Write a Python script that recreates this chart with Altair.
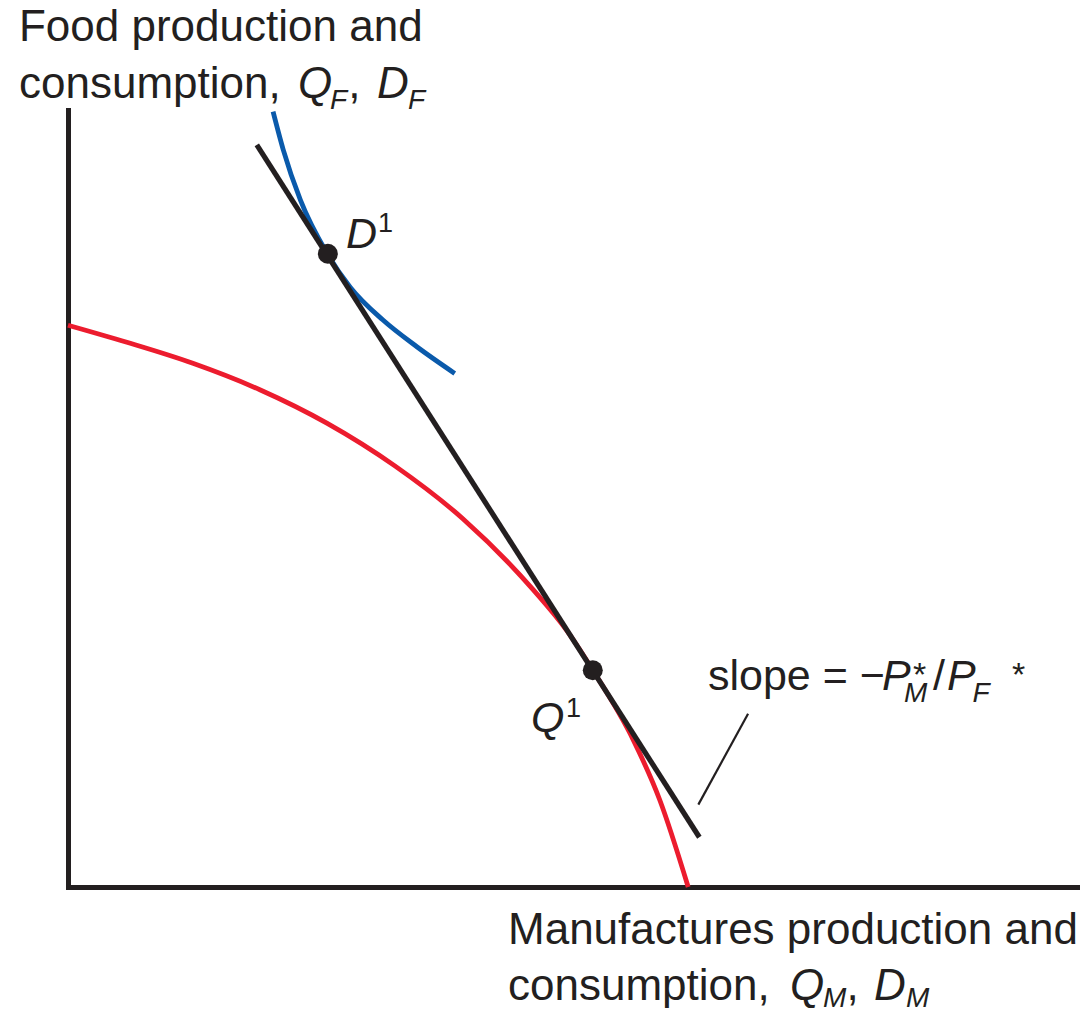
import altair as alt
import pandas as pd

# ---- data (arbitrary units) ----
# production possibility frontier (red)
ppf_x = [0.00, 0.58, 1.23, 1.89, 2.55, 3.22, 3.89, 4.58, 4.92, 5.17, 5.57, 5.83, 6.11]
ppf_y = [7.23, 7.01, 6.74, 6.40, 5.97, 5.42, 4.74, 3.83, 3.29, 2.79, 1.89, 1.12, 0.00]
# indifference curve (blue)
ic_x = [2.02, 2.12, 2.29, 2.55, 2.78, 3.10, 3.44, 3.81]
ic_y = [9.98, 9.49, 8.84, 8.16, 7.72, 7.30, 6.95, 6.61]
# relative price line (black)
price_x = [1.86, 6.22]
price_y = [9.55, 0.64]
# equilibrium points D1, Q1
pt_x = [2.56, 5.17]
pt_y = [8.15, 2.79]
# leader line of the slope label
ptr_x = [6.70, 6.21]
ptr_y = [2.23, 1.06]

# text pieces: text, x, y, font size, italic
lab_text = ["Food production and", "consumption,", "Q", "F", ",", "D", "F",
            "Manufactures production and", "consumption,", "Q", "M", ",", "D", "M",
            "D", "1", "Q", "1",
            "slope = \u2212", "P", "*", "M", "/", "P", "F", "*"]
lab_x = [-0.483, -0.483, 2.266, 2.581, 2.760, 3.044, 3.350,
         4.335, 4.335, 7.113, 7.438, 7.670, 7.941, 8.256,
         2.739, 3.054, 4.562, 4.906,
         6.305, 8.020, 8.325, 8.236, 8.522, 8.660, 8.910, 9.300]
lab_y = [10.888, 10.154, 10.154, 10.013, 10.154, 10.154, 10.013,
         -0.734, -1.454, -1.454, -1.544, -1.454, -1.454, -1.544,
         8.224, 8.430, 1.995, 2.188,
         2.535, 2.535, 2.587, 2.381, 2.535, 2.535, 2.381, 2.587]
lab_size = [44, 44, 44, 28, 44, 44, 28,
            44, 44, 44, 28, 44, 44, 28,
            43, 27, 43, 27,
            43, 43, 34, 28, 43, 43, 28, 34]
lab_italic = [False, False, True, True, False, True, True,
              False, False, True, True, False, True, True,
              True, False, True, False,
              False, True, False, True, False, True, True, False]

RED = "#ec1c2e"
BLUE = "#0a5aab"
INK = "#231f20"
FONT = "Liberation Sans"

xs = alt.Scale(domain=[0, 9.97], nice=False, zero=False)
ys = alt.Scale(domain=[0, 10], nice=False, zero=False)

ppf_df = pd.DataFrame({"x": ppf_x, "y": ppf_y, "o": range(len(ppf_x))})
ic_df = pd.DataFrame({"x": ic_x, "y": ic_y, "o": range(len(ic_x))})
price_df = pd.DataFrame({"x": [price_x[0]], "y": [price_y[0]], "x2": [price_x[1]], "y2": [price_y[1]]})
ptr_df = pd.DataFrame({"x": [ptr_x[0]], "y": [ptr_y[0]], "x2": [ptr_x[1]], "y2": [ptr_y[1]]})
pt_df = pd.DataFrame({"x": pt_x, "y": pt_y})
lab_df = pd.DataFrame({"x": lab_x, "y": lab_y, "t": lab_text, "s": lab_size, "it": lab_italic})

X = alt.X("x:Q", scale=xs, title=None)
Y = alt.Y("y:Q", scale=ys, title=None)

ppf = alt.Chart(ppf_df).mark_line(color=RED, strokeWidth=4.8, interpolate="monotone").encode(
    x=X, y=Y, order="o:Q")
ic = alt.Chart(ic_df).mark_line(color=BLUE, strokeWidth=4.8, interpolate="monotone").encode(
    x=X, y=Y, order="o:Q")
price = alt.Chart(price_df).mark_rule(color=INK, strokeWidth=5.2, strokeCap="butt").encode(
    x=X, y=Y, x2="x2:Q", y2="y2:Q")
ptr = alt.Chart(ptr_df).mark_rule(color=INK, strokeWidth=2.2, strokeCap="butt").encode(
    x=X, y=Y, x2="x2:Q", y2="y2:Q")
pts = alt.Chart(pt_df).mark_circle(color=INK, opacity=1, size=400).encode(x=X, y=Y)

txt_norm = alt.Chart(lab_df).transform_filter("!datum.it").mark_text(
    align="left", baseline="alphabetic", font=FONT, color=INK).encode(
    x=X, y=Y, text="t:N", size=alt.Size("s:Q", scale=None, legend=None))
txt_it = alt.Chart(lab_df).transform_filter("datum.it").mark_text(
    align="left", baseline="alphabetic", font=FONT, fontStyle="italic", color=INK).encode(
    x=X, y=Y, text="t:N", size=alt.Size("s:Q", scale=None, legend=None))

chart = alt.layer(ppf, ic, price, ptr, pts, txt_norm, txt_it).properties(
    width=1012, height=777,
    padding={"left": 60, "top": 102, "right": 0, "bottom": 121},
    autosize=alt.AutoSizeParams(type="none"),
).configure_axis(
    domain=True, domainWidth=5, domainColor=INK, domainCap="square",
    ticks=False, labels=False, grid=False, title=None,
).configure_view(stroke=None)

chart.save("out.html", embed_options={"renderer": "svg", "actions": False})
